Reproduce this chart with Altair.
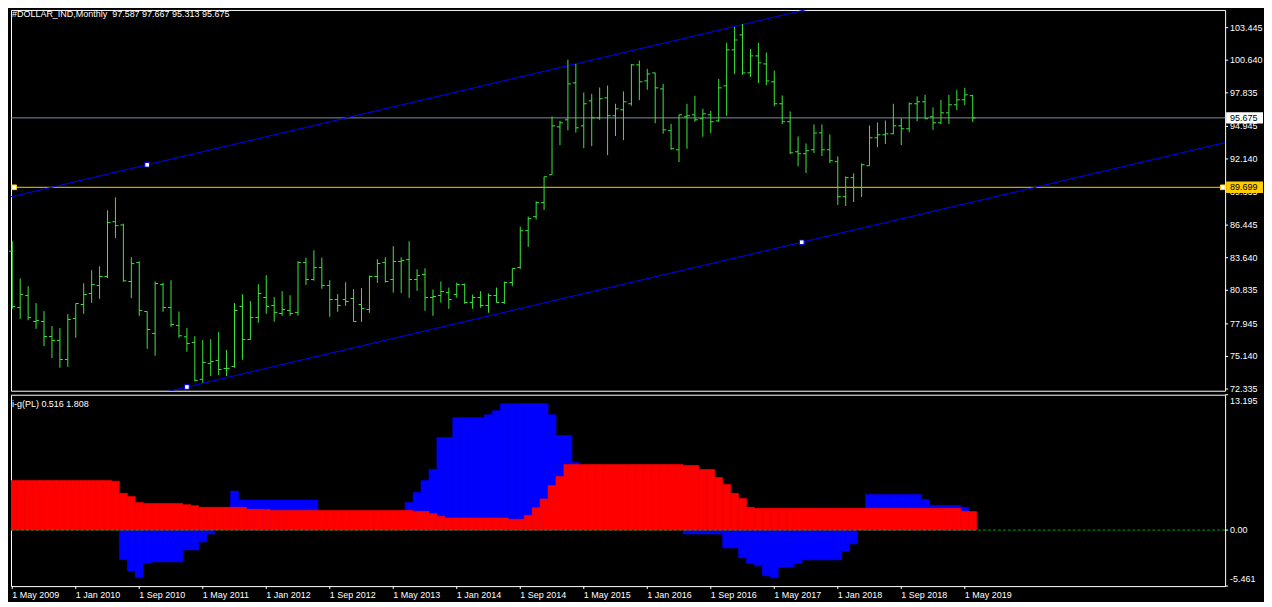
import altair as alt
import pandas as pd

# ---------------- data ----------------
start_month = "2009-05-01"
opens = [84.20, 79.35, 80.38, 78.15, 78.15, 76.86, 76.52, 74.88, 78.41, 79.61,
         80.56, 81.24, 82.02, 86.74, 86.46, 81.59, 83.22, 79.01, 77.12, 81.33,
         79.35, 77.81, 76.83, 76.35, 73.17, 74.54, 74.80, 74.11, 74.28, 79.44,
         76.60, 78.49, 80.21, 79.53, 78.84, 79.10, 78.93, 83.22, 81.76, 82.79,
         81.24, 80.04, 80.04, 80.13, 79.61, 79.18, 82.02, 83.22, 81.76, 83.31,
         83.48, 81.76, 82.19, 80.21, 80.39, 80.64, 80.47, 81.33, 79.78, 80.21,
         79.53, 80.39, 79.78, 81.50, 82.79, 85.97, 87.17, 88.38, 90.78, 94.90,
         95.51, 98.69, 94.99, 97.14, 95.68, 97.40, 95.86, 96.37, 96.89, 100.24,
         98.86, 99.55, 98.17, 94.57, 92.93, 95.77, 95.94, 95.60, 95.94, 95.42,
         98.43, 101.53, 102.82, 99.55, 101.01, 100.32, 98.78, 96.89, 95.34, 92.76,
         92.59, 92.93, 94.39, 92.93, 91.90, 88.89, 90.53, 89.67, 91.56, 93.96,
         94.22, 94.31, 94.99, 94.74, 96.89, 97.06, 95.77, 95.25, 96.11, 96.80,
         97.23, 97.587]
highs = [85.05, 81.85, 81.19, 79.73, 79.04, 77.75, 77.58, 78.78, 79.70, 81.44,
         82.56, 82.90, 87.72, 88.83, 86.57, 83.68, 83.31, 79.01, 81.59, 81.50,
         81.70, 79.01, 77.58, 76.89, 76.55, 76.63, 77.23, 75.69, 79.73, 80.50,
         79.90, 81.36, 82.13, 80.24, 80.76, 80.41, 83.34, 83.65, 84.28, 83.65,
         81.70, 80.50, 81.53, 80.93, 81.02, 82.10, 83.51, 83.68, 84.63, 83.68,
         85.06, 82.65, 82.73, 80.90, 81.59, 81.07, 81.50, 81.42, 80.47, 80.76,
         80.56, 81.07, 81.59, 82.71, 86.32, 87.18, 88.49, 90.61, 95.80, 95.42,
         100.69, 100.32, 97.86, 97.74, 98.29, 98.46, 96.89, 97.95, 100.32, 100.61,
         99.89, 99.55, 98.60, 95.17, 95.94, 96.89, 97.57, 96.46, 96.28, 99.03,
         102.13, 103.50, 103.76, 101.61, 102.13, 101.30, 99.75, 97.60, 96.23, 94.08,
         93.48, 95.11, 95.11, 94.25, 92.36, 90.64, 90.90, 91.76, 95.02, 95.28,
         95.45, 96.89, 95.65, 97.00, 97.52, 97.66, 96.57, 97.23, 97.66, 98.09,
         98.26, 97.667]
lows = [79.24, 78.38, 78.26, 77.52, 76.03, 75.00, 74.17, 74.25, 76.75, 78.81,
        79.75, 80.10, 81.90, 85.34, 81.56, 80.16, 78.64, 75.80, 75.20, 78.98,
        77.69, 76.75, 75.54, 73.00, 72.88, 73.45, 73.54, 73.45, 74.17, 74.86,
        76.57, 78.04, 78.81, 78.12, 78.64, 78.64, 78.64, 81.30, 81.67, 80.96,
        78.55, 78.98, 79.50, 78.15, 78.12, 78.90, 81.47, 81.50, 80.64, 80.61,
        80.19, 80.79, 79.07, 78.64, 79.76, 79.24, 80.19, 79.67, 79.24, 79.33,
        78.90, 79.78, 79.67, 81.19, 82.68, 84.57, 86.92, 87.75, 90.78, 93.33,
        94.60, 94.42, 93.07, 93.25, 95.51, 92.47, 94.11, 93.76, 96.72, 97.20,
        98.09, 95.22, 94.31, 92.93, 91.87, 93.02, 95.34, 94.05, 94.37, 95.34,
        95.86, 99.46, 99.38, 99.20, 98.66, 98.49, 96.68, 95.14, 92.56, 91.50,
        90.93, 92.65, 92.39, 91.79, 88.18, 88.09, 88.43, 88.87, 91.56, 93.16,
        93.42, 94.28, 93.33, 94.45, 95.39, 95.60, 94.65, 95.14, 95.14, 96.34,
        96.77, 95.313]
closes = [79.44, 80.47, 78.49, 78.24, 76.86, 76.52, 74.88, 78.32, 79.70, 80.47,
          81.33, 82.02, 86.66, 86.40, 81.65, 83.13, 79.10, 77.46, 81.42, 79.35,
          77.89, 76.92, 76.26, 73.08, 74.63, 74.71, 74.02, 74.11, 79.10, 76.60,
          78.49, 80.56, 79.44, 78.93, 79.18, 78.84, 83.22, 81.76, 82.79, 81.24,
          80.04, 79.53, 79.87, 78.15, 79.27, 82.02, 83.14, 81.59, 83.31, 83.40,
          81.76, 82.10, 80.21, 80.30, 80.73, 80.04, 81.33, 79.78, 80.21, 79.53,
          80.39, 79.78, 81.50, 82.71, 85.97, 87.00, 88.38, 90.61, 94.99, 95.25,
          98.60, 94.82, 96.89, 95.68, 97.32, 95.86, 96.46, 97.06, 100.24, 98.78,
          99.46, 98.26, 94.65, 93.02, 95.94, 95.86, 95.51, 96.03, 95.34, 98.26,
          101.53, 102.38, 99.55, 101.01, 100.41, 98.86, 96.89, 95.34, 92.67, 92.59,
          92.85, 94.37, 92.93, 91.99, 88.89, 90.53, 89.67, 91.64, 93.96, 94.22,
          94.31, 94.99, 94.74, 96.89, 97.06, 95.60, 95.25, 96.11, 96.80, 97.23,
          97.66, 95.675]

red_vals = [4.84, 4.84, 4.84, 4.84, 4.84, 4.84, 4.84, 4.84, 4.84, 4.84,
            4.84, 4.84, 4.84, 4.77, 3.58, 3.28, 2.70, 2.60, 2.60, 2.60,
            2.60, 2.60, 2.48, 2.38, 2.22, 2.22, 2.22, 2.22, 2.22, 2.22,
            2.02, 2.02, 2.02, 1.92, 1.92, 1.92, 1.92, 1.92, 1.92, 1.92,
            1.92, 1.92, 1.92, 1.92, 1.92, 1.92, 1.92, 1.92, 1.92, 1.92,
            1.92, 1.83, 1.83, 1.60, 1.34, 1.18, 1.18, 1.18, 1.18, 1.18,
            1.18, 1.18, 1.18, 1.05, 1.05, 1.44, 2.18, 3.03, 4.35, 5.23,
            6.39, 6.39, 6.39, 6.39, 6.39, 6.39, 6.39, 6.39, 6.39, 6.39,
            6.39, 6.39, 6.39, 6.39, 6.39, 6.30, 6.30, 5.91, 5.91, 5.13,
            4.45, 3.58, 3.09, 2.22, 2.12, 2.12, 2.12, 2.12, 2.12, 2.12,
            2.12, 2.12, 2.12, 2.12, 2.12, 2.12, 2.12, 2.12, 2.12, 2.12,
            2.12, 2.12, 2.12, 2.12, 2.12, 2.12, 2.12, 2.12, 2.12, 2.12,
            1.83, 1.808]
N = None
blue_vals = [N, N, N, N, N, N, N, N, N, N,
             N, N, N, N, -2.87, -4.00, -4.65, -3.23, -3.10, -3.10,
             -3.10, -3.10, -1.93, -1.93, -1.15, -0.38, N, N, 3.80, 2.93,
             2.93, 2.93, 2.93, 2.93, 2.93, 2.93, 2.93, 2.93, 2.93, N,
             N, N, N, N, N, N, N, N, N, N,
             2.70, 3.67, 4.84, 5.91, 9.02, 9.02, 10.96, 10.96, 10.96, 10.96,
             11.25, 11.64, 12.32, 12.32, 12.32, 12.32, 12.32, 12.32, 11.25, 9.21,
             9.21, 6.59, N, N, N, N, N, N, N, N,
             N, N, N, N, N, -0.38, -0.38, -0.38, -0.38, -0.38,
             -1.74, -1.74, -2.71, -3.23, -3.49, -4.46, -4.65, -3.62, -3.62, -3.23,
             -2.90, -2.90, -2.90, -2.90, -2.90, -2.06, -1.35, N, 3.48, 3.48,
             3.48, 3.48, 3.48, 3.48, 3.48, 2.99, 2.41, 2.41, 2.41, 2.41,
             2.22, 0.516]

x_tick_labels = ["1 May 2009", "1 Jan 2010", "1 Sep 2010", "1 May 2011", "1 Jan 2012",
                 "1 Sep 2012", "1 May 2013", "1 Jan 2014", "1 Sep 2014", "1 May 2015",
                 "1 Jan 2016", "1 Sep 2016", "1 May 2017", "1 Jan 2018", "1 Sep 2018",
                 "1 May 2019"]
x_tick_step = 8  # months between date labels
price_ticks = [72.335, 75.140, 77.945, 80.835, 83.640, 86.445, 89.335, 92.140,
               94.945, 97.835, 100.640, 103.445]
ind_ticks = [13.195, 0.0, -5.461]
ind_tick_labels = ["13.195", "0.00", "-5.461"]

bid_price = 95.675
level_price = 89.699
lower_anchors = [(22, 72.51), (99.46, 84.97)]   # (bar index, price)
upper_anchor = (17, 91.64)

title_text = "#DOLLAR_IND,Monthly\u00a0 97.587 97.667 95.313 95.675"
ind_text = "i-g(PL) 0.516 1.808"

# ---------------- styling / layout ----------------
FONT = "Liberation Sans"
FS = 9
GREEN = "#3ce63c"
BLUE = "#0000ff"
RED = "#ff0000"
GRAY = "#7f8fa0"
GOLD = "#ffcc00"
W = 1218
H_MAIN = 382
H_IND = 192
X_MIN, X_MAX = -0.16, 152.8
P_MIN, P_MAX = 72.19, 104.966
V_MIN, V_MAX = -5.461, 13.195

months = pd.date_range(start_month, periods=len(opens), freq="MS")
df = pd.DataFrame({
    "m": list(range(len(opens))),
    "month": months.strftime("%b %Y"),
    "open": opens, "high": highs, "low": lows, "close": closes,
    "red": red_vals, "blue": blue_vals,
})

xs = alt.Scale(domain=[X_MIN, X_MAX], nice=False, zero=False)
ys = alt.Scale(domain=[P_MIN, P_MAX], nice=False, zero=False)
vs = alt.Scale(domain=[V_MIN, V_MAX], nice=False, zero=False)


def X(f):
    return alt.X(f, scale=xs, axis=None)


def Y(f):
    return alt.Y(f, scale=ys, axis=None)


def V(f):
    return alt.Y(f, scale=vs, axis=None)


# channel line endpoints from anchors
slope = (lower_anchors[1][1] - lower_anchors[0][1]) / (lower_anchors[1][0] - lower_anchors[0][0])
ch_rows = []
for name, (am, ap) in [("lower", lower_anchors[0]), ("upper", upper_anchor)]:
    for xm in (X_MIN, X_MAX):
        ch_rows.append({"name": name, "m": xm, "price": ap + slope * (xm - am)})
df_ch = pd.DataFrame(ch_rows)
df_anch = pd.DataFrame({"m": [lower_anchors[0][0], lower_anchors[1][0], upper_anchor[0]],
                        "price": [lower_anchors[0][1], lower_anchors[1][1], upper_anchor[1]]})
df_lvl_anch = pd.DataFrame({"m": [X_MIN + 0.4, X_MAX - 0.3], "price": [level_price, level_price]})

# ---------------- main panel ----------------
bars = alt.Chart(df).mark_rule(color=GREEN, strokeWidth=1).encode(
    x=X("m:Q"), y=Y("low:Q"), y2="high:Q")
open_t = alt.Chart(df).mark_tick(color=GREEN, orient="horizontal", size=3, thickness=1,
                                 xOffset=-1.5, opacity=1).encode(x=X("m:Q"), y=Y("open:Q"))
close_t = alt.Chart(df).mark_tick(color=GREEN, orient="horizontal", size=3, thickness=1,
                                  xOffset=1.5, opacity=1).encode(x=X("m:Q"), y=Y("close:Q"))

df_h = pd.DataFrame({"price": [bid_price, level_price], "col": [GRAY, GOLD]})
hlines = alt.Chart(df_h).mark_rule(strokeWidth=1).encode(
    y=Y("price:Q"), color=alt.Color("col:N", scale=None))

chan = alt.Chart(df_ch).mark_line(color=BLUE, strokeWidth=1, clip=True).encode(
    x=X("m:Q"), y=Y("price:Q"), detail="name:N")
anch = alt.Chart(df_anch).mark_point(shape="square", size=22, filled=True, fill="white",
                                     stroke=BLUE, strokeWidth=1, opacity=1, clip=True).encode(
    x=X("m:Q"), y=Y("price:Q"))
lvl_anch = alt.Chart(df_lvl_anch).mark_point(shape="square", size=22, filled=True, fill="white",
                                             stroke=GOLD, strokeWidth=1, opacity=1,
                                             clip=True).encode(
    x=X("m:Q"), y=Y("price:Q"))

# right price scale: ticks + labels positioned by the price scale
df_pt = pd.DataFrame({"p": price_ticks, "lbl": [f"{p:.3f}" for p in price_ticks]})
p_ticks = alt.Chart(df_pt).mark_rule(color="white", strokeWidth=1).encode(
    x=alt.value(W), x2=alt.value(W + 3), y=Y("p:Q"))
p_lbls = alt.Chart(df_pt).mark_text(align="left", baseline="middle", color="white",
                                    font=FONT, fontSize=FS).encode(
    x=alt.value(W + 5), y=Y("p:Q"), text="lbl:N")

BOX = "M-1,-0.31H1V0.31H-1Z"
df_lbl = pd.DataFrame({"price": [bid_price, level_price],
                       "txt": [f"{bid_price:.3f}", f"{level_price:.3f}"],
                       "col": ["white", GOLD]})
lbl_box = alt.Chart(df_lbl).mark_point(shape=BOX, size=37 * 37, filled=True, opacity=1,
                                       strokeWidth=0).encode(
    x=alt.value(W + 19.5), y=Y("price:Q"), color=alt.Color("col:N", scale=None))
lbl_txt = alt.Chart(df_lbl).mark_text(align="left", baseline="middle", color="black",
                                      font=FONT, fontSize=FS).encode(
    x=alt.value(W + 5), y=Y("price:Q"), text="txt:N")

title = alt.Chart(pd.DataFrame({"t": [title_text]})).mark_text(
    align="left", baseline="top", color="white", font=FONT, fontSize=FS).encode(
    x=alt.value(1), y=alt.value(0.5), text="t:N")

main = alt.layer(hlines, chan, bars, open_t, close_t, anch, lvl_anch,
                 p_ticks, p_lbls, lbl_box, lbl_txt, title).properties(width=W, height=H_MAIN)

# ---------------- indicator panel ----------------
blue_bars = alt.Chart(df).transform_filter("isValid(datum.blue)").transform_calculate(
    x0="datum.m - 0.5", x1="datum.m + 0.5").mark_rect(
    color=BLUE, stroke=BLUE, strokeWidth=0.6, clip=True).encode(
    x=alt.X("x0:Q", scale=xs, axis=None), x2="x1:Q",
    y=V("blue:Q"), y2=alt.datum(0))
red_bars = alt.Chart(df).transform_calculate(
    x0="datum.m - 0.5", x1="datum.m + 0.5").mark_rect(
    color=RED, stroke=RED, strokeWidth=0.6, clip=True).encode(
    x=alt.X("x0:Q", scale=xs, axis=None), x2="x1:Q",
    y=V("red:Q"), y2=alt.datum(0))
zero = alt.Chart(pd.DataFrame({"z": [0.0]})).mark_rule(
    color="#00a000", strokeWidth=1, strokeDash=[3, 2]).encode(y=V("z:Q"))
ind_title = alt.Chart(pd.DataFrame({"t": [ind_text]})).mark_text(
    align="left", baseline="middle", color="white", font=FONT, fontSize=FS).encode(
    x=alt.value(1), y=alt.value(9), text="t:N")

df_vt = pd.DataFrame({"v": ind_ticks, "lbl": ind_tick_labels, "pos": ["top", "mid", "bottom"]})
v_ticks = alt.Chart(df_vt).mark_rule(color="white", strokeWidth=1).encode(
    x=alt.value(W), x2=alt.value(W + 3), y=V("v:Q"))
v_lbl_layers = []
for pos, base in [("top", "top"), ("mid", "middle"), ("bottom", "bottom")]:
    v_lbl_layers.append(
        alt.Chart(df_vt).transform_filter(f"datum.pos == '{pos}'").mark_text(
            align="left", baseline=base, color="white", font=FONT, fontSize=FS,
            dy=(2 if pos == "top" else (-2 if pos == "bottom" else 0))).encode(
            x=alt.value(W + 5), y=V("v:Q"), text="lbl:N"))

df_xt = pd.DataFrame({"m": [x_tick_step * i for i in range(len(x_tick_labels))],
                      "lbl": x_tick_labels})
x_ticks = alt.Chart(df_xt).mark_rule(color="white", strokeWidth=1).encode(
    x=X("m:Q"), y=alt.value(H_IND), y2=alt.value(H_IND + 3))
x_lbls = alt.Chart(df_xt).mark_text(align="left", baseline="top", color="white",
                                    font=FONT, fontSize=FS).encode(
    x=X("m:Q"), y=alt.value(H_IND + 5), text="lbl:N")

ind = alt.layer(blue_bars, red_bars, zero, ind_title, v_ticks, *v_lbl_layers,
                x_ticks, x_lbls).properties(width=W, height=H_IND)

chart = alt.vconcat(main, ind, spacing=4, bounds="flush").properties(
    padding=0, background="black"
).configure_view(stroke="white", strokeWidth=1)

chart.save("out.html", embed_options={"renderer": "svg", "actions": False})
